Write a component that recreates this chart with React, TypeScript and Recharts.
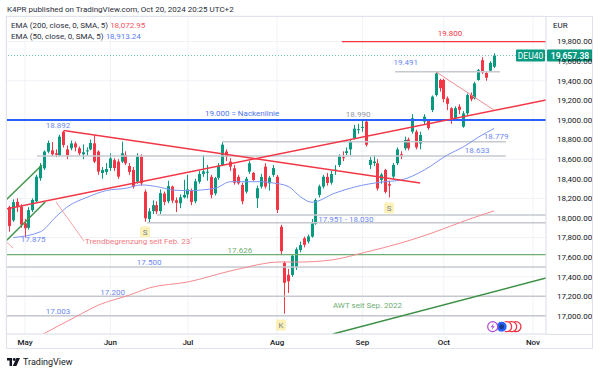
import React from "react";
import {
  ComposedChart,
  Bar,
  Line,
  XAxis,
  YAxis,
  CartesianGrid,
  ReferenceLine,
  ReferenceDot,
} from "recharts";

const FONT = "Roboto, 'Liberation Sans', Arial, sans-serif";
const UP = "#089981";
const DOWN = "#f23645";
const BLUE_TXT = "#6b88f3";
const GRAY_LINE = "#c5c8cf";

// trading days, Apr 25 -> Oct 18 2024
const dates = [
  "04-25", "04-26", "04-29", "04-30",
  "05-02", "05-03", "05-06", "05-07", "05-08", "05-09", "05-10", "05-13", "05-14", "05-15", "05-16",
  "05-17", "05-20", "05-21", "05-22", "05-23", "05-24", "05-27", "05-28", "05-29", "05-30", "05-31",
  "06-03", "06-04", "06-05", "06-06", "06-07", "06-10", "06-11", "06-12", "06-13", "06-14",
  "06-17", "06-18", "06-19", "06-20", "06-21", "06-24", "06-25", "06-26", "06-27", "06-28",
  "07-01", "07-02", "07-03", "07-04", "07-05", "07-08", "07-09", "07-10", "07-11", "07-12",
  "07-15", "07-16", "07-17", "07-18", "07-19", "07-22", "07-23", "07-24", "07-25", "07-26",
  "07-29", "07-30", "07-31",
  "08-01", "08-02", "08-05", "08-06", "08-07", "08-08", "08-09", "08-12", "08-13", "08-14",
  "08-15", "08-16", "08-19", "08-20", "08-21", "08-22", "08-23", "08-26", "08-27", "08-28",
  "08-29", "08-30",
  "09-02", "09-03", "09-04", "09-05", "09-06", "09-09", "09-10", "09-11", "09-12", "09-13",
  "09-16", "09-17", "09-18", "09-19", "09-20", "09-23", "09-24", "09-25", "09-26", "09-27", "09-30",
  "10-01", "10-02", "10-03", "10-04", "10-07", "10-08", "10-09", "10-10", "10-11", "10-14",
  "10-15", "10-16", "10-17", "10-18",
];

const opens = [
  18110, 17975, 18165, 18115, 17945, 17900, 18080, 18170, 18405, 18507,
  18677, 18690, 18660, 18640, 18880, 18700, 18711, 18760, 18711, 18650,
  18680, 18700, 18762, 18677, 18459, 18470, 18510, 18590, 18575, 18575,
  18643, 18530, 18490, 18371, 18626, 18268, 17990, 18070, 18130, 18070,
  18250, 18170, 18320, 18180, 18150, 18210, 18240, 18280, 18170, 18370,
  18450, 18470, 18420, 18250, 18410, 18541, 18677, 18575, 18507, 18420,
  18337, 18268, 18473, 18460, 18201, 18320, 18524, 18354, 18440, 18421,
  17911, 17541, 17420, 17418, 17500, 17673, 17793, 17760, 17810, 17940,
  18235, 18320, 18420, 18360, 18480, 18541, 18620, 18663, 18700, 18813,
  18900, 18920, 18983, 18541, 18560, 18558, 18388, 18490, 18345, 18422,
  18558, 18650, 18711, 18800, 18881, 18881, 18760, 18983, 18990, 19102,
  19255, 19408, 19408, 19221, 19119, 19017, 19136, 18932, 19068, 19255,
  19221, 19408, 19610, 19480, 19503, 19544,
];

const highs = [
  18125, 18190, 18200, 18140, 17990, 18110, 18200, 18440, 18560, 18690,
  18790, 18775, 18700, 18850, 18892, 18740, 18790, 18780, 18730, 18750,
  18720, 18800, 18847, 18690, 18520, 18560, 18660, 18610, 18600, 18779,
  18680, 18560, 18520, 18660, 18650, 18290, 18100, 18180, 18170, 18290,
  18270, 18380, 18330, 18210, 18240, 18390, 18440, 18300, 18400, 18480,
  18643, 18540, 18440, 18420, 18560, 18779, 18700, 18610, 18540, 18440,
  18360, 18420, 18580, 18470, 18330, 18450, 18560, 18430, 18540, 18440,
  17930, 17560, 17480, 17630, 17700, 17760, 17810, 17830, 17990, 18200,
  18340, 18440, 18460, 18480, 18540, 18650, 18680, 18720, 18800, 18950,
  18960, 18990, 18990, 18620, 18640, 18600, 18460, 18500, 18380, 18560,
  18720, 18680, 18830, 18820, 19060, 18900, 18880, 19060, 19010, 19250,
  19491, 19420, 19420, 19240, 19130, 19140, 19160, 19090, 19270, 19280,
  19390, 19520, 19640, 19500, 19600, 19680,
];

const lows = [
  17860, 17960, 18060, 17900, 17800, 17880, 18060, 18160, 18380, 18490,
  18660, 18630, 18620, 18630, 18720, 18600, 18690, 18680, 18640, 18600,
  18640, 18690, 18560, 18440, 18400, 18440, 18480, 18480, 18400, 18560,
  18540, 18440, 18300, 18350, 18330, 17960, 17950, 18040, 18040, 18040,
  18130, 18150, 18150, 18060, 18100, 18200, 18200, 18130, 18150, 18350,
  18420, 18380, 18200, 18230, 18390, 18530, 18580, 18480, 18340, 18340,
  18140, 18250, 18450, 18380, 18102, 18300, 18300, 18280, 18420, 18050,
  17620, 17024, 17235, 17400, 17470, 17650, 17700, 17740, 17800, 17930,
  18210, 18300, 18330, 18340, 18440, 18520, 18580, 18640, 18640, 18800,
  18860, 18880, 18730, 18500, 18530, 18280, 18350, 18250, 18210, 18400,
  18540, 18600, 18690, 18690, 18860, 18700, 18700, 18950, 18900, 19080,
  19240, 19290, 19180, 19100, 18960, 18990, 19060, 18920, 19050, 19190,
  19210, 19400, 19470, 19400, 19490, 19530,
];

const closes = [
  17917, 18161, 18118, 17932, 17896, 18080, 18184, 18421, 18530, 18677,
  18765, 18650, 18645, 18830, 18745, 18640, 18761, 18720, 18660, 18670,
  18690, 18765, 18575, 18473, 18490, 18500, 18608, 18510, 18422, 18660,
  18558, 18470, 18320, 18626, 18354, 17997, 18068, 18131, 18067, 18254,
  18163, 18325, 18177, 18155, 18211, 18235, 18291, 18164, 18374, 18450,
  18475, 18472, 18236, 18407, 18534, 18748, 18626, 18524, 18360, 18354,
  18171, 18400, 18558, 18387, 18303, 18418, 18320, 18411, 18509, 18083,
  17661, 17339, 17354, 17615, 17680, 17723, 17726, 17812, 17945, 18183,
  18322, 18421, 18357, 18449, 18493, 18633, 18617, 18681, 18782, 18912,
  18906, 18930, 18747, 18592, 18576, 18301, 18443, 18266, 18330, 18541,
  18699, 18633, 18796, 18711, 19017, 18720, 18847, 19034, 18918, 19238,
  19474, 19325, 19213, 19165, 19015, 19121, 19104, 19066, 19254, 19211,
  19373, 19508, 19486, 19432, 19583, 19657.38,
];

// moving averages at a few bars
const ema50Bars = [1, 8, 12, 15, 20, 25, 30, 34, 38, 42, 46, 53, 57, 65, 68, 72, 75, 78, 84, 89, 96, 101, 107, 113, 117, 121, 125];
const ema50Vals = [17800, 17860, 18013, 18116, 18211, 18280, 18303, 18337, 18320, 18286, 18279, 18303, 18370, 18370, 18357, 18320, 18217, 18160, 18255, 18316, 18367, 18388, 18490, 18645, 18724, 18827, 18913.24];
const ema200Bars = [7, 17, 23, 31, 36, 46, 58, 70, 75, 83, 92, 101, 109, 118, 125];
const ema200Vals = [16780, 16990, 17112, 17214, 17286, 17347, 17469, 17551, 17551, 17571, 17653, 17745, 17847, 17980, 18072.95];

const monthTicks = [4, 26, 46, 69, 91, 112, 135];
const monthNames = ["May", "Jun", "Jul", "Aug", "Sep", "Oct", "Nov"];
const priceTicks = [17000, 17200, 17400, 17600, 17800, 18000, 18200, 18400, 18600, 18800, 19000, 19200, 19400, 19600, 19800];

const X_MIN = -0.9;
const X_MAX = 138.35;
const Y_MIN = 16816;
const Y_MAX = 20061;

// horizontal levels: price, from bar, to bar, colour, width
const levels: [number, number, number, string, number][] = [
  [19800, 85.7, X_MAX, "#f23645", 1.3],
  [19491, 99.4, 126.5, GRAY_LINE, 1.5],
  [18779, 54.8, 128, GRAY_LINE, 1.5],
  [18633, 7.1, 128, GRAY_LINE, 1.5],
  [18030, 38, X_MAX, GRAY_LINE, 1.5],
  [17951, 35.5, X_MAX, GRAY_LINE, 1.5],
  [17626, X_MIN, X_MAX, "#6fae72", 1.2],
  [17500, X_MIN, X_MAX, GRAY_LINE, 1.5],
  [17200, X_MIN, X_MAX, GRAY_LINE, 1.5],
  [17003, X_MIN, X_MAX, GRAY_LINE, 1.5],
  [19000, X_MIN, X_MAX, "#2962ff", 2],
];

// drawn trend lines: x1, p1, x2, p2, colour, width
const trends: [number, number, number, number, string, number][] = [
  [X_MIN, 18092, X_MAX, 19204, "#f23645", 1.5],
  [14, 18892, 105.9, 18357, "#f23645", 1.5],
  [110, 19491, 124.9, 19102, "#f58c92", 1],
  [12, 18164, 19.2, 17765, "#f7a3a7", 1],
  [X_MIN, 17758, 1, 17691, "#f7a3a7", 1],
  [X_MIN, 18184, 8.4, 18541, "#43944a", 1.5],
  [X_MIN, 17765, 9.2, 18163, "#43944a", 1.5],
  [83.4, 16816, X_MAX, 17388, "#3d8f45", 1.5],
];

// text notes: bar, price, text, colour, anchor
const notes: [number, number, string, string, string][] = [
  [12.5, 18939, "18.892", BLUE_TXT, "middle"],
  [6.1, 17776, "17.875", BLUE_TXT, "middle"],
  [19.5, 17765, "Trendbegrenzung seit Feb. 23´", "#f27a80", "start"],
  [50.4, 19061, "19.000 = Nackenlinie", "#4f74f0", "start"],
  [89.9, 19051, "18.990", "#9598a1", "middle"],
  [79.6, 17985, "17.951 - 18.030", BLUE_TXT, "start"],
  [59.4, 17673, "17.626", "#6fae72", "middle"],
  [36, 17546, "17.500", BLUE_TXT, "middle"],
  [26.6, 17235, "17.200", BLUE_TXT, "middle"],
  [12.5, 17046, "17.003", BLUE_TXT, "middle"],
  [83.4, 17102, "AWT seit Sep. 2022", "#6fae72", "start"],
  [113.6, 19878, "19.800", "#f23645", "middle"],
  [102.2, 19587, "19.491", BLUE_TXT, "middle"],
  [125.5, 18827, "18.779", BLUE_TXT, "middle"],
  [120.6, 18689, "18.633", BLUE_TXT, "middle"],
];

// small marker boxes: bar, price, letter
const markers: [number, number, string][] = [
  [34.95, 17857, "S"],
  [97.9, 18102, "S"],
  [70, 16908, "K"],
];

// event icons at the bottom right: bar, colour
const iconBars = [130.6, 129.5, 128.2];
const iconY = 16891;

const rows = dates.map((d, i) => {
  const a = ema50Bars.indexOf(i);
  const b = ema200Bars.indexOf(i);
  return {
    i,
    date: d,
    open: opens[i],
    high: highs[i],
    low: lows[i],
    close: closes[i],
    range: [lows[i], highs[i]],
    ema50: a >= 0 ? ema50Vals[a] : null,
    ema200: b >= 0 ? ema200Vals[b] : null,
  };
});

const Candle = (props: any) => {
  const { x, y, width, height, payload } = props;
  if (!payload || height == null) return null;
  const { open, close, high, low } = payload;
  const color = close >= open ? UP : DOWN;
  const k = height / (high - low);
  const cx = Math.round(x + width / 2) + 0.5;
  const top = y + (high - Math.max(open, close)) * k;
  const h = Math.max(1, Math.abs(close - open) * k);
  return (
    <g>
      <line x1={cx} x2={cx} y1={y} y2={y + height} stroke={color} strokeWidth={1} />
      <rect x={cx - 1.5} y={top} width={3} height={h} fill={color} />
    </g>
  );
};

const noteShape = (text: string, color: string, anchor: string) => (p: any) => (
  <text
    x={p.cx}
    y={p.cy}
    fill={color}
    fontSize={8}
    fontFamily={FONT}
    textAnchor={anchor as any}
    dominantBaseline="central"
  >
    {text}
  </text>
);

const markerShape = (letter: string) => (p: any) => (
  <g>
    <rect x={p.cx - 5} y={p.cy - 5.5} width={10} height={11} rx={1.5} fill="#fbf1b6" />
    <text x={p.cx} y={p.cy + 0.5} fill="#7d8596" fontSize={8} fontFamily={FONT} textAnchor="middle" dominantBaseline="central">
      {letter}
    </text>
  </g>
);

const priceShape = (p: any) => (
  <g fontFamily={FONT} fontSize={8.5}>
    <rect x={p.cx - 30} y={p.cy - 6} width={29} height={12} rx={1} fill={UP} />
    <text x={p.cx - 15.5} y={p.cy + 0.5} fill="#fff" textAnchor="middle" dominantBaseline="central">DEU40</text>
    <rect x={p.cx + 1} y={p.cy - 6} width={46} height={12} rx={1} fill={UP} />
    <text x={p.cx + 24} y={p.cy + 0.5} fill="#fff" fontWeight={600} textAnchor="middle" dominantBaseline="central">19,657.38</text>
  </g>
);

const ringShape = (p: any) => <circle cx={p.cx} cy={p.cy} r={5} fill="#fff" stroke="#f23645" strokeWidth={1.3} />;
const blueShape = (p: any) => (
  <g>
    <circle cx={p.cx} cy={p.cy} r={5.5} fill="#2962ff" stroke="#fff" strokeWidth={1} />
    <circle cx={p.cx} cy={p.cy} r={2.5} fill="#1a3b8f" />
  </g>
);
const boltShape = (p: any) => (
  <g>
    <circle cx={p.cx} cy={p.cy} r={5} fill="#fff" stroke="#b04ccf" strokeWidth={1.2} />
    <path d={`M${p.cx + 1} ${p.cy - 3.5} L${p.cx - 2} ${p.cy + 0.5} L${p.cx} ${p.cy + 0.5} L${p.cx - 1} ${p.cy + 3.5} L${p.cx + 2} ${p.cy - 0.5} L${p.cx} ${p.cy - 0.5} Z`} fill="#b04ccf" />
  </g>
);

const fmtPrice = (v: number) =>
  v.toLocaleString("en-US", { minimumFractionDigits: 2, maximumFractionDigits: 2 });

export default function App() {
  return (
    <div style={{ position: "relative", width: 600, height: 372, background: "#fff", fontFamily: FONT }}>
      <style>{`body{margin:0}`}</style>
      <ComposedChart width={600} height={372} data={rows} margin={{ top: 16, right: 7, bottom: 23, left: 6 }}>
        <CartesianGrid stroke="#f0f2f6" strokeWidth={1} />
        <XAxis
          dataKey="i"
          type="number"
          domain={[X_MIN, X_MAX]}
          allowDataOverflow
          ticks={monthTicks}
          tickFormatter={(v: number) => monthNames[monthTicks.indexOf(v)] ?? ""}
          height={15}
          tickLine={false}
          tickSize={0}
          tickMargin={5}
          axisLine={{ stroke: "#e0e3eb" }}
          tick={{ fontSize: 8, fill: "#131722", fontFamily: FONT, fontWeight: 500 }}
        />
        <YAxis
          orientation="right"
          type="number"
          domain={[Y_MIN, Y_MAX]}
          allowDataOverflow
          ticks={priceTicks}
          tickFormatter={fmtPrice}
          width={47}
          tickLine={false}
          tickSize={0}
          tickMargin={11}
          axisLine={{ stroke: "#e0e3eb" }}
          tick={{ fontSize: 8, fill: "#131722", fontFamily: FONT }}
        />
        {levels.map(([p, a, b, c, w], k) => (
          <ReferenceLine
            key={`lv-${k}`}
            segment={[{ x: a, y: p }, { x: b, y: p }]}
            stroke={c}
            strokeWidth={w}
            ifOverflow="hidden"
          />
        ))}
        <ReferenceLine y={19657.38} stroke={UP} strokeOpacity={0.6} strokeDasharray="1 2" />
        <Line dataKey="ema200" type="monotone" stroke="#f58a90" strokeWidth={1} dot={false} connectNulls isAnimationActive={false} />
        <Line dataKey="ema50" type="monotone" stroke="#7d95f4" strokeWidth={1} dot={false} connectNulls isAnimationActive={false} />
        {trends.map(([x1, p1, x2, p2, c, w], k) => (
          <ReferenceLine
            key={`tr-${k}`}
            segment={[{ x: x1, y: p1 }, { x: x2, y: p2 }]}
            stroke={c}
            strokeWidth={w}
            ifOverflow="hidden"
          />
        ))}
        <Bar dataKey="range" barSize={3} shape={Candle} isAnimationActive={false} />
        {notes.map(([x, p, t, c, a], k) => (
          <ReferenceDot key={`nt-${k}`} x={x} y={p} r={0} ifOverflow="visible" shape={noteShape(t, c, a)} />
        ))}
        {markers.map(([x, p, t], k) => (
          <ReferenceDot key={`mk-${k}`} x={x} y={p} r={0} ifOverflow="visible" shape={markerShape(t)} />
        ))}
        {iconBars.map((x, k) => (
          <ReferenceDot key={`ic-${k}`} x={x} y={iconY} r={0} ifOverflow="visible" shape={ringShape} />
        ))}
        <ReferenceDot x={126.9} y={iconY} r={0} ifOverflow="visible" shape={blueShape} />
        <ReferenceDot x={124.6} y={iconY} r={0} ifOverflow="visible" shape={boltShape} />
        <ReferenceDot x={X_MAX} y={19657.38} r={0} ifOverflow="visible" shape={priceShape} />
      </ComposedChart>

      {/* frame */}
      <div style={{ position: "absolute", left: 6, top: 16, width: 587, height: 333, border: "1px solid #e0e3eb", boxSizing: "border-box", pointerEvents: "none" }} />
      <div style={{ position: "absolute", left: 546, top: 334, width: 47, height: 1, background: "#e0e3eb" }} />

      {/* header */}
      <div style={{ position: "absolute", left: 7, top: 4, fontSize: 8, color: "#2a2e39", whiteSpace: "nowrap", lineHeight: "12px" }}>
        K4PR published on TradingView.com, Oct 20, 2024 20:25 UTC+2
      </div>
      <div style={{ position: "absolute", left: 11, top: 20, fontSize: 8, color: "#2a2e39", whiteSpace: "nowrap", lineHeight: "12px" }}>
        EMA (200, close, 0, SMA, 5) <span style={{ color: "#f7525f" }}>18,072.95</span>
      </div>
      <div style={{ position: "absolute", left: 11, top: 31, fontSize: 8, color: "#2a2e39", whiteSpace: "nowrap", lineHeight: "12px" }}>
        EMA (50, close, 0, SMA, 5) <span style={{ color: "#5b7cf6" }}>18,913.24</span>
      </div>
      <div style={{ position: "absolute", left: 553, top: 20, fontSize: 8, color: "#131722", lineHeight: "12px" }}>EUR</div>

      {/* footer */}
      <div style={{ position: "absolute", left: 7, top: 356, display: "flex", alignItems: "center", gap: 3 }}>
        <svg width={13} height={8} viewBox="0 0 36 22">
          <path d="M0 0 H14 V22 H7 V7 H0 Z" fill="#131722" />
          <circle cx={20} cy={4} r={4} fill="#131722" />
          <path d="M26 0 H36 L26 22 H16 Z" fill="#131722" />
        </svg>
        <span style={{ fontSize: 9, color: "#131722", lineHeight: "12px" }}>TradingView</span>
      </div>
    </div>
  );
}
